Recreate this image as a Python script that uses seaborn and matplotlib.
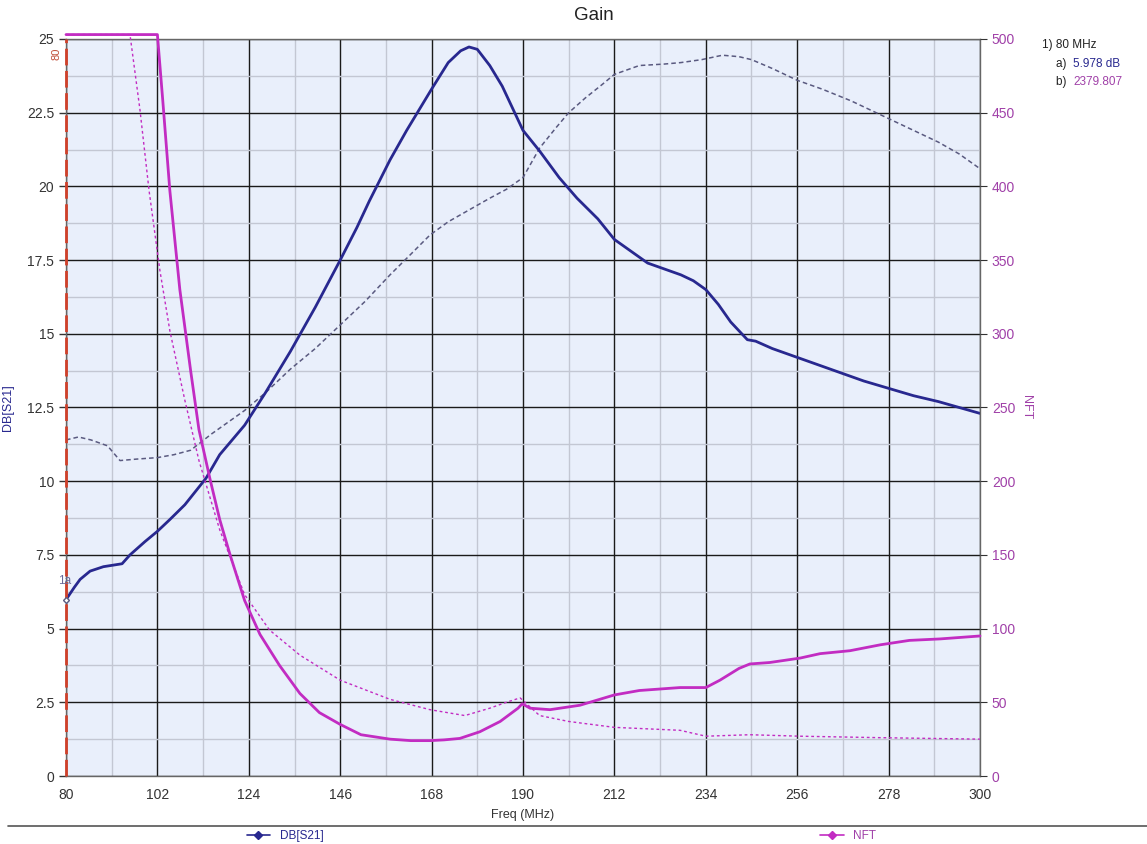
import numpy as np
import pandas as pd
import seaborn as sns
import matplotlib.pyplot as plt
from matplotlib.lines import Line2D
from matplotlib.ticker import FixedLocator

# DB[S21] (traço atual)
freq_db = [80, 82, 83.4, 85.8, 89, 93.5, 95.4, 99, 102, 105, 108.6, 113.7, 117, 120, 123,
           128, 134, 140, 146, 150, 153, 158, 162, 165, 168, 172, 175, 177, 179, 182, 185,
           188, 190, 194, 198.7, 203, 208, 212, 216, 220, 224, 228, 231, 234, 237, 240, 244,
           246, 250, 256, 262, 268, 272, 278, 284, 290, 295, 300]
db_s21 = [5.98, 6.4, 6.67, 6.95, 7.1, 7.2, 7.5, 7.95, 8.3, 8.7, 9.2, 10.1, 10.9, 11.4, 11.9,
          13.0, 14.4, 15.9, 17.5, 18.6, 19.5, 20.9, 21.9, 22.6, 23.3, 24.2, 24.6, 24.73, 24.65,
          24.1, 23.4, 22.5, 21.9, 21.2, 20.3, 19.6, 18.9, 18.2, 17.8, 17.4, 17.2, 17.0, 16.8,
          16.5, 16.0, 15.4, 14.8, 14.75, 14.5, 14.2, 13.9, 13.6, 13.4, 13.15, 12.9, 12.7, 12.5, 12.3]

# DB[S21] (traço memorizado, pontilhado)
freq_db_mem = [80, 83, 86, 90, 93, 97, 102, 106, 110, 115, 119, 123, 128, 134, 140, 146, 152,
               158, 163, 167.6, 172, 177, 182, 186, 190, 194, 198, 201, 205, 209, 212, 218, 224,
               228, 233, 238, 242, 245, 250, 256, 262, 269, 278, 284, 290, 295, 300]
db_mem = [11.4, 11.5, 11.4, 11.2, 10.7, 10.75, 10.8, 10.9, 11.05, 11.6, 12.0, 12.4, 13.0,
          13.8, 14.5, 15.3, 16.1, 17.0, 17.7, 18.35, 18.8, 19.2, 19.6, 19.9, 20.3, 21.3, 22.0,
          22.5, 23.0, 23.45, 23.8, 24.1, 24.15, 24.2, 24.3, 24.45, 24.4, 24.3, 24.0, 23.6,
          23.3, 22.9, 22.3, 21.9, 21.5, 21.1, 20.6]

# NFT (traço atual)
freq_nft = [80, 90, 100, 102, 103.3, 105, 107.4, 110, 112, 114.7, 117, 119.5, 123, 126.7,
            131.4, 136.3, 141, 146, 151, 158, 163, 167.6, 171, 174.8, 179.6, 184.5, 188.8,
            189.8, 191.7, 196.5, 203.7, 212, 218, 227.8, 234, 237.4, 242, 244.6, 249.4, 256.7,
            261.5, 268.7, 276, 283, 290.4, 300]
nft = [2379.807, 1900, 1200, 900, 458, 397, 330, 275, 235, 201, 174, 150, 119, 96, 75, 56,
       43, 35, 28, 25, 24, 24, 24.5, 25.5, 30, 37, 46, 49, 46, 45, 48, 55, 58, 60, 60, 65,
       73, 76, 77, 80, 83, 85, 89, 92, 93, 95]

# NFT (traço memorizado, pontilhado)
freq_nft_mem = [80, 90, 95.4, 97.8, 100, 102.6, 105, 108.6, 112, 117, 123, 129, 136.3, 146,
                158, 167.6, 176, 182, 186, 189.3, 194, 201, 212, 227.8, 234, 244.6, 256.7,
                276, 300]
nft_mem = [1500, 900, 520, 452, 397, 343, 302, 255, 214, 167, 123, 99, 82, 65, 52, 45, 41,
           46, 50, 53, 41, 37, 33, 31, 27, 28, 27, 26, 25]

db_ticks = np.arange(0, 25.1, 2.5)
nft_ticks = np.arange(0, 501, 50)
freq_ticks = np.arange(80, 301, 22)

BLUE = '#28288f'
BLUE_MEM = '#5a5a80'
MAG = '#c22cc2'
MAG_TXT = '#a040a8'

sns.set_style('white')
plt.rcParams['font.family'] = ['Liberation Sans', 'DejaVu Sans']

fig = plt.figure(figsize=(11.47, 8.44), dpi=100)
ax = fig.add_axes([66 / 1147, 1 - 776 / 844, (980 - 66) / 1147, (776 - 39) / 844])
ax.set_facecolor('#e9effb')

df_db = pd.DataFrame({'freq': freq_db, 'val': db_s21})
df_db_mem = pd.DataFrame({'freq': freq_db_mem, 'val': db_mem})
sns.lineplot(data=df_db_mem, x='freq', y='val', ax=ax, color=BLUE_MEM, lw=1.1,
             linestyle=(0, (3, 2)))
sns.lineplot(data=df_db, x='freq', y='val', ax=ax, color=BLUE, lw=2)

ax.set_xlim(80, 300)
ax.set_ylim(0, 25)
ax.set_xticks(freq_ticks)
ax.set_yticks(db_ticks)
ax.set_yticklabels([f'{t:g}' for t in db_ticks])
ax.xaxis.set_minor_locator(FixedLocator(freq_ticks[:-1] + 11))
ax.yaxis.set_minor_locator(FixedLocator(db_ticks[:-1] + 1.25))
ax.grid(which='major', color='#1a1a1a', lw=1)
ax.grid(which='minor', color='#c3c7d3', lw=1)
ax.set_axisbelow(True)
ax.tick_params(which='major', direction='out', length=5, width=1, labelsize=10,
               labelcolor='#333333', color='#333333')
ax.tick_params(which='minor', length=0)
ax.set_xlabel('Freq (MHz)', fontsize=9, color='#333333', labelpad=5)
ax.set_ylabel('DB[S21]', fontsize=9, color=BLUE)
ax.yaxis.set_label_coords(-52 / 914, 0.5)
for s in ax.spines.values():
    s.set_color('#666666')
    s.set_linewidth(1)
fig.text(594 / 1147, 1 - 16 / 844, 'Gain', fontsize=13.5, color='#222222',
         ha='center', va='center')

ax2 = ax.twinx()
df_nft = pd.DataFrame({'freq': freq_nft, 'val': np.minimum(nft, 503)})
df_nft_mem = pd.DataFrame({'freq': freq_nft_mem, 'val': np.minimum(nft_mem, 503)})
sns.lineplot(data=df_nft_mem, x='freq', y='val', ax=ax2, color=MAG, lw=1,
             linestyle=(0, (2, 2)), clip_on=False)
sns.lineplot(data=df_nft, x='freq', y='val', ax=ax2, color=MAG, lw=2, clip_on=False)
ax2.set_ylim(0, 500)
ax2.set_yticks(nft_ticks)
ax2.tick_params(direction='out', length=5, labelsize=10, labelcolor=MAG_TXT, color='#333333')
ax2.set_ylabel('NFT', fontsize=9, color=MAG_TXT, rotation=-90, labelpad=12)
ax2.set_xlabel('')
for s in ax2.spines.values():
    s.set_visible(False)

# marcador 1a em 80 MHz
ax.axvline(80, color='#d0402a', lw=2, linestyle=(0, (6, 2)), zorder=5, clip_on=False)
ax.text(79.0, 24.7, '80', rotation=90, color='#c0503a', fontsize=8, ha='right', va='top')
ax.plot([80], [5.978], marker='D', ms=3, color='white', mec=BLUE_MEM, zorder=6, clip_on=False)
ax.text(79.6, 6.4, '1a', color='#6a6a9a', fontsize=8.5, ha='center', va='bottom', zorder=7)

# leitura do marcador
fig.text(1042 / 1147, 1 - 45 / 844, '1) 80 MHz', fontsize=8.5, color='#222222', va='center')
fig.text(1056 / 1147, 1 - 64 / 844, 'a) ', fontsize=8.5, color='#222222', va='center')
fig.text(1073 / 1147, 1 - 64 / 844, '5.978 dB', fontsize=8.5, color=BLUE, va='center')
fig.text(1056 / 1147, 1 - 82 / 844, 'b) ', fontsize=8.5, color='#222222', va='center')
fig.text(1073 / 1147, 1 - 82 / 844, '2379.807', fontsize=8.5, color=MAG_TXT, va='center')

# legenda inferior
fig.add_artist(Line2D([8 / 1147, 1], [1 - 826 / 844] * 2, color='#555555', lw=1.2))
h1 = Line2D([], [], color=BLUE, marker='D', ms=4, lw=1.2)
h2 = Line2D([], [], color=MAG, marker='D', ms=4, lw=1.2)
l1 = fig.legend([h1], ['DB[S21]'], loc='center', bbox_to_anchor=(285 / 1147, 1 - 836 / 844),
                frameon=False, fontsize=8.5, handlelength=2, borderpad=0)
for t in l1.get_texts():
    t.set_color(BLUE)
l2 = fig.legend([h2], ['NFT'], loc='center', bbox_to_anchor=(848 / 1147, 1 - 836 / 844),
                frameon=False, fontsize=8.5, handlelength=2, borderpad=0)
for t in l2.get_texts():
    t.set_color(MAG_TXT)

fig.savefig('out.png', dpi=100)
